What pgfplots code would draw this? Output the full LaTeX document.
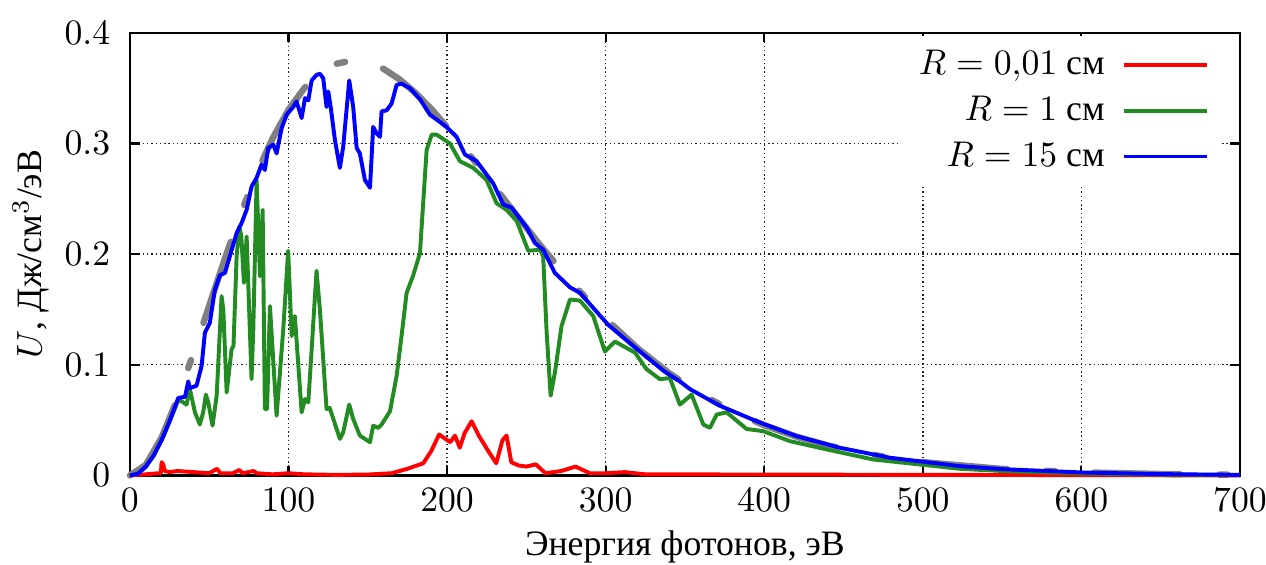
\documentclass[border=0pt]{standalone}
\usepackage{fontspec}
\setmainfont{Liberation Serif}
\usepackage{pgfplots}
\pgfplotsset{compat=1.18}

\definecolor{cR}{RGB}{255,0,0}
\definecolor{cG}{RGB}{34,139,34}
\definecolor{cB}{RGB}{0,0,255}
\definecolor{cK}{RGB}{128,128,128}

\begin{document}
\begin{tikzpicture}
\begin{axis}[
  width=311pt, height=124pt, scale only axis,
  xmin=0, xmax=700, ymin=0, ymax=0.4,
  xtick={0,100,...,700},
  ytick={0,0.1,0.2,0.3,0.4},
  yticklabel style={/pgf/number format/fixed, /pgf/number format/precision=1, xshift=-2pt},
  grid=major,
  grid style={black!85, line width=0.4pt, dash pattern=on 0.4pt off 0.8pt},
  tick align=inside, major tick length=2.7pt,
  every tick/.style={black, line width=0.6pt},
  axis line style={line width=0.7pt},
  clip=false,
  xlabel={Энергия фотонов, эВ},
  ylabel={$U$, Дж/см$^3$/эВ},
  xlabel style={at={(axis description cs:0.5,-0.1625)}, anchor=center},
  ylabel style={at={(axis description cs:-0.0892,0.5)}, anchor=center},
  legend style={at={(axis description cs:0.982,0.995)}, anchor=north east,
    draw=none, fill=white, row sep=0.5pt},
  legend cell align=right,
  legend plot pos=right,
  legend image code/.code={\path (0pt,0pt); \draw[#1] (3pt,0pt) -- (26pt,0pt);},
  every axis plot/.append style={line join=round},
]

% Planck-like envelope (grey, dash-dot)
\addplot[cK, line width=1.8pt, line cap=round,
  dash pattern=on 24pt off 11pt on 2.4pt off 11pt, forget plot] coordinates {
(0,0) (10,0.0095) (20,0.0343) (30,0.0693) (40,0.1102) (50,0.1535) (60,0.1965)
(70,0.2370) (80,0.2734) (90,0.3047) (100,0.3304) (110,0.3501) (120,0.3639)
(130,0.3720) (140,0.3750) (150,0.3733) (160,0.3674) (170,0.3580) (180,0.3458)
(190,0.3313) (200,0.3150) (220,0.2794) (240,0.2421) (260,0.2058) (280,0.1720)
(300,0.1416) (320,0.1151) (340,0.0925) (360,0.0736) (380,0.0580) (400,0.0453)
(420,0.0352) (440,0.0271) (460,0.0208) (480,0.0158) (500,0.0120) (550,0.0059)
(600,0.0028) (650,0.0013) (700,0.0006)
};

% R = 0,01 cm
\addplot[cR, line width=1.1pt] coordinates {
(0,0) (10,0.001) (18,0.002) (19.5,0.002) (20,0.012) (21,0.010) (22,0.004)
(25,0.003) (30,0.004) (40,0.003) (50,0.002) (55,0.006) (57,0.002) (65,0.002)
(69,0.005) (71,0.002) (78,0.004) (80,0.002) (90,0.001) (100,0.002) (110,0.001)
(130,0.0005) (150,0.0008) (165,0.002) (175,0.006) (185,0.011) (190,0.022)
(195,0.037) (202,0.030) (205,0.036) (208,0.025) (211,0.038) (215.5,0.049)
(220,0.036) (226,0.022) (231,0.011) (235,0.032) (237.5,0.036) (240.5,0.012)
(245,0.009) (250,0.008) (256,0.010) (262,0.002) (272,0.004) (281,0.008)
(290,0.002) (300,0.002) (312,0.003) (325,0.001) (400,0.0008) (500,0.0005)
(600,0.0003) (700,0)
};
\addlegendentry{$R = 0{,}01$ см}

% R = 1 cm
\addplot[cG, line width=1.1pt] coordinates {
(0,0) (5,0.0015) (10,0.008) (15,0.018) (20,0.032) (25,0.049) (30.5,0.068)
(32.6,0.067) (35.7,0.064) (37.8,0.078) (41,0.057) (44.1,0.046) (46.2,0.057)
(47.9,0.073) (49.4,0.066) (52.1,0.045) (54.7,0.072) (57.8,0.162) (58.9,0.150)
(61,0.075) (64.1,0.114) (65.3,0.117) (67.3,0.198) (68.9,0.225) (70.2,0.217)
(71.9,0.174) (73.6,0.216) (76.7,0.087) (77.8,0.132) (79.9,0.267) (82,0.180)
(83.7,0.240) (85.1,0.060) (86.5,0.060) (88.3,0.153) (92.5,0.054) (96.7,0.132)
(99.8,0.203) (102,0.126) (104,0.144) (108.3,0.057) (110.4,0.069) (112.5,0.066)
(117.7,0.185) (119.8,0.150) (124,0.060) (126,0.061) (132.4,0.033) (134.5,0.039)
(138.3,0.064) (140.8,0.051) (145,0.036) (151.4,0.030) (153.4,0.045) (156.6,0.043)
(158.7,0.046) (164,0.058) (168.2,0.090) (171.3,0.126) (174.5,0.165) (178.7,0.181)
(182.9,0.201) (187.1,0.294) (190.3,0.308) (193.4,0.308) (201.8,0.300)
(208.1,0.284) (216.5,0.278) (224.9,0.267) (231.2,0.246) (237.5,0.240)
(243.9,0.230) (251.2,0.203) (258.6,0.204) (260.6,0.198) (262.8,0.129)
(265.3,0.072) (268,0.093) (272.2,0.135) (277.5,0.159) (283.8,0.158)
(292.2,0.144) (299.5,0.112) (305.9,0.121) (318.5,0.111) (325.8,0.096)
(334.2,0.087) (340.5,0.088) (346.8,0.064) (354.2,0.073) (361.6,0.046)
(365.8,0.043) (370,0.055) (376.3,0.057) (388.9,0.042) (399.4,0.040)
(416.2,0.031) (439.4,0.0235) (468.8,0.0144) (523.4,0.006) (550,0.004)
(600,0.0018) (650,0.0008) (700,0.0003)
};
\addlegendentry{$R = 1$ см}

% R = 15 cm
\addplot[cB, line width=1.1pt] coordinates {
(0,0) (5,0.0015) (10,0.008) (15,0.018) (20,0.032) (25,0.049) (30.5,0.070)
(34.7,0.071) (36.8,0.085) (37.8,0.079) (42,0.081) (45.2,0.099) (47.3,0.129)
(50.4,0.138) (53.6,0.168) (56.8,0.181) (59.9,0.183) (63,0.198) (67.3,0.219)
(70.4,0.228) (73.6,0.240) (76.7,0.261) (79.9,0.269) (83,0.281) (85.1,0.276)
(87.2,0.296) (90.4,0.299) (92.5,0.291) (95.7,0.314) (98.8,0.326) (103,0.333)
(105.1,0.338) (108.3,0.323) (110.4,0.341) (112.5,0.339) (114.6,0.357)
(117.7,0.362) (119.8,0.363) (121.9,0.359) (124,0.333) (125.1,0.347)
(126.6,0.333) (129.3,0.303) (132.4,0.278) (134.5,0.297) (138.3,0.357)
(140.8,0.333) (143,0.296) (145,0.291) (148.2,0.267) (151.4,0.260)
(153.4,0.315) (155.6,0.309) (157.7,0.306) (158.7,0.329) (161.9,0.330)
(165,0.336) (168.2,0.353) (171.3,0.354) (176.6,0.350) (182.9,0.340)
(189.2,0.326) (199.7,0.315) (206,0.306) (211.3,0.290) (218.6,0.284)
(229.1,0.264) (235.4,0.245) (240.7,0.242) (250.2,0.224) (255.4,0.210)
(260.6,0.204) (268,0.183) (277.5,0.170) (283.8,0.165) (301.7,0.136)
(317.4,0.117) (337,0.094) (346.8,0.085) (353.2,0.078) (372,0.063)
(395.2,0.049) (420.4,0.0355) (447.7,0.025) (479.3,0.016) (523.4,0.0084)
(550,0.0057) (600,0.0027) (650,0.0012) (700,0.0005)
};
\addlegendentry{$R = 15$ см}

\coordinate (ll) at (rel axis cs:0,0);
\coordinate (ur) at (rel axis cs:1,1);
\end{axis}
\pgfresetboundingbox
\path[use as bounding box] ([shift={(-36.4pt,-25pt)}]ll) rectangle ([shift={(7.3pt,9.2pt)}]ur);
\end{tikzpicture}
\end{document}
